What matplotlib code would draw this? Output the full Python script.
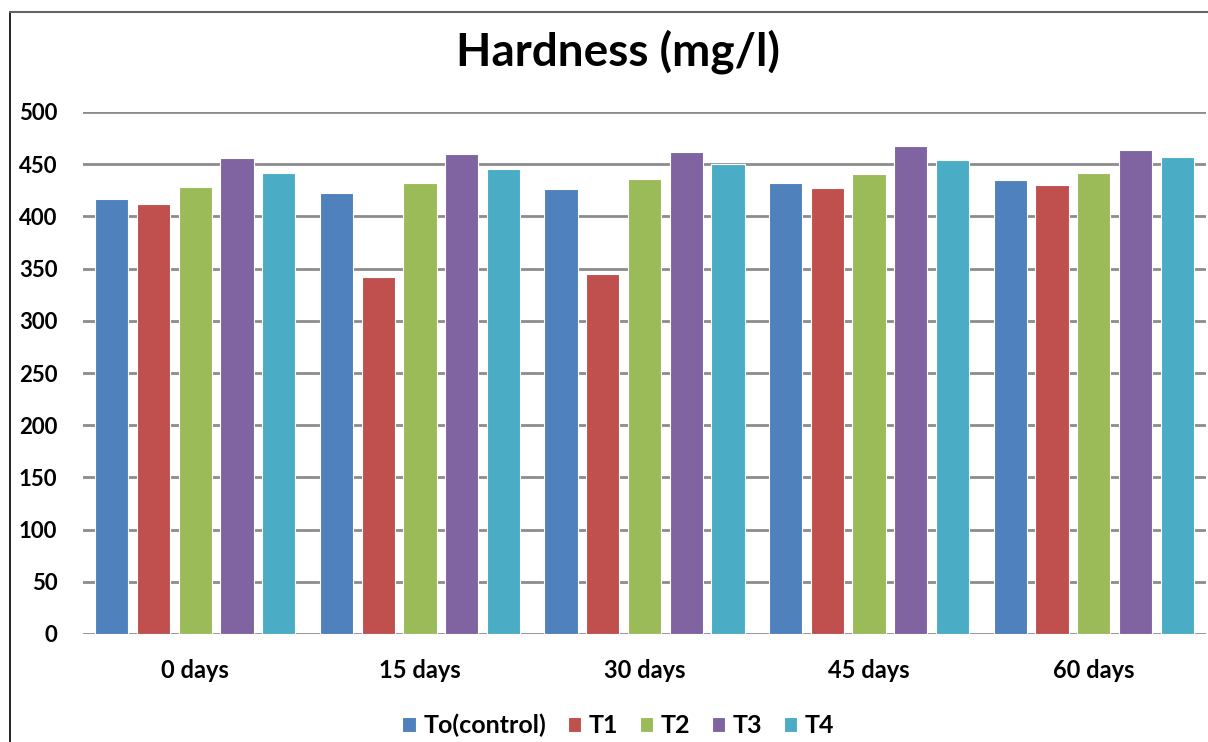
import numpy as np
import matplotlib.pyplot as plt
from matplotlib.lines import Line2D

plt.rcParams['font.family'] = ['Lato', 'DejaVu Sans']
plt.rcParams['font.weight'] = 'bold'

days = ['0 days', '15 days', '30 days', '45 days', '60 days']
series = ['To(control)', 'T1', 'T2', 'T3', 'T4']
to_ctrl = [417, 422, 426, 432, 435]
t1 = [412, 342, 345, 427, 430]
t2 = [428, 432, 436, 441, 442]
t3 = [456, 460, 462, 467, 464]
t4 = [442, 445, 450, 454, 457]
colors = ['#4F81BD', '#C0504D', '#9BBB59', '#8064A2', '#4BACC6']

fig = plt.figure(figsize=(12.08, 7.42), dpi=100)
ax = fig.add_axes([83 / 1208, 1 - 634 / 742, 1123 / 1208, 522 / 742])

x = np.arange(len(days))
slot = 0.186
width = 0.148
for i, (vals, name) in enumerate(zip([to_ctrl, t1, t2, t3, t4], series)):
    ax.bar(x + (i - 2) * slot, vals, width, color=colors[i], label=name,
           edgecolor='white', linewidth=0.8, zorder=3)

ax.set_xlim(-0.5, 4.5)
ax.set_ylim(0, 500)
ax.set_yticks(range(0, 501, 50))
ax.yaxis.grid(True, color='#8c8c8c', linewidth=2, zorder=0)
ax.set_axisbelow(True)
ax.set_xticks(x)
ax.set_xticklabels(days, fontsize=17)
ax.tick_params(axis='both', length=0)
ax.tick_params(axis='y', labelsize=16, pad=18.5)
ax.tick_params(axis='x', pad=18)
for s in ['top', 'right', 'bottom', 'left']:
    ax.spines[s].set_visible(False)

fig.text(0.512, 0.93, 'Hardness (mg/l)', ha='center', va='center',
         fontsize=33, fontweight='bold')

ax.legend(loc='center', bbox_to_anchor=(0.512, 0.022), bbox_transform=fig.transFigure,
          ncol=5, frameon=False, fontsize=18, handlelength=0.55, handleheight=0.55,
          handletextpad=0.3, columnspacing=0.85)

# outer chart border (left and top visible)
fig.add_artist(Line2D([9.5 / 1208, 9.5 / 1208], [0, 1 - 12 / 742], color='black',
                      linewidth=1.2, transform=fig.transFigure))
fig.add_artist(Line2D([9.5 / 1208, 1], [1 - 12 / 742, 1 - 12 / 742], color='#666666',
                      linewidth=1.5, transform=fig.transFigure))

fig.savefig('out.png', dpi=100)
